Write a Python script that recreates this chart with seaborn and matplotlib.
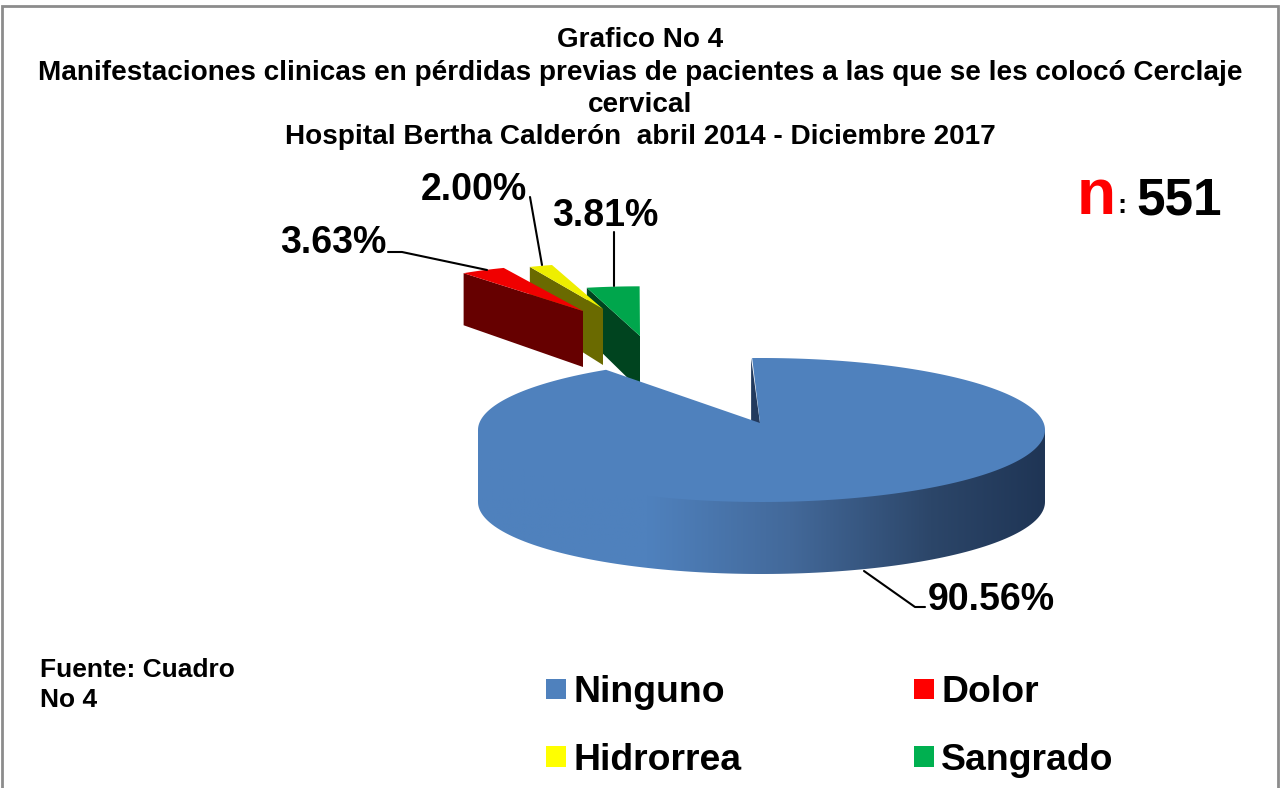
import numpy as np
import matplotlib
matplotlib.use("Agg")
import matplotlib.pyplot as plt
from matplotlib.colors import LinearSegmentedColormap
from matplotlib.patches import Patch, Polygon
import seaborn as sns

categories = ["Ninguno", "Dolor", "Hidrorrea", "Sangrado"]
percent = [90.56, 3.63, 2.00, 3.81]
top_colors = ["#4F81BD", "#F00000", "#EEEE00", "#00A64C"]
side_colors = ["#223A5E", "#660000", "#6A6A00", "#00441F"]
legend_colors = ["#4F81BD", "#FF0000", "#FFFF00", "#00B050"]

sns.set_theme(style="white")
plt.rcParams["font.family"] = ["Liberation Sans", "DejaVu Sans"]
plt.rcParams["font.weight"] = "bold"
plt.rcParams["text.color"] = "black"

# pie geometry in pixels of the picture
cx, cy = 761.5, 430
rx, ry = 283.5, 72
apex = np.array([760, 423])
depth = 72
start = -2.1

# exploded slices: apex position, x and y scale, depth, small turn for the perspective
exploded = {
    "Dolor": ((583, 311), 0.715, 0.65, 56, 0.0),
    "Hidrorrea": ((603, 309), 0.66, 0.635, 56, 0.0),
    "Sangrado": ((640, 336), 0.785, 0.69, 54, 2.0),
}

fig = plt.figure(figsize=(12.8, 7.88), dpi=100)
ax = fig.add_axes([0, 0, 1, 1])
ax.set_xlim(0, 1280)
ax.set_ylim(788, 0)
ax.axis("off")


def rim(a, b, n=120):
    t = np.radians(np.linspace(a, b, n))
    return np.column_stack([np.sin(t), -np.cos(t)])


# angles of every slice, clockwise
sweeps = np.array(percent) * 3.6
edges = start + np.concatenate([[0], np.cumsum(sweeps)])

ax.add_patch(Polygon([(2, 800), (2, 6), (1278, 6), (1278, 800)], closed=False, fill=False,
                     ec="#8C8C8C", lw=2))

# exploded slices, back to front
for i in [3, 2, 1]:
    name = categories[i]
    pos, sx, sy, h, turn = exploded[name]
    pos = np.array(pos)
    arc = rim(edges[i] + turn, edges[i + 1] + turn, 30) * [rx * sx, ry * sy] + pos
    # the far end of the side is a bit shorter because of the perspective
    side = np.array([arc[0], pos, pos + [0, h], arc[0] + [0, h * 0.93]])
    ax.add_patch(Polygon(side, fc=side_colors[i], ec="none"))
    ax.add_patch(Polygon(np.vstack([pos, arc]), fc=top_colors[i], ec="none"))

# main slice: outer wall with the shading, runs up under the top so no seam shows
wall_top = rim(90, 270) * [rx, ry] + [cx, cy]
wall = np.vstack([wall_top[[0, -1]], (wall_top + [0, depth])[::-1]])
shade = LinearSegmentedColormap.from_list(
    "shade", [(0, "#4F81BD"), (0.3, "#4F81BD"), (0.55, "#43699A"), (0.8, "#2C4669"), (1, "#1F3555")])
img = ax.imshow(np.linspace(0, 1, 256)[None, :], extent=[cx - rx, cx + rx, cy + ry + depth, cy - 10],
                cmap=shade, aspect="auto", vmin=0, vmax=1)
img.set_clip_path(Polygon(wall, transform=ax.transData))
ax.set_xlim(0, 1280)
ax.set_ylim(788, 0)

# inner wall seen in the notch
inner = rim(edges[0], edges[0], 1)[0] * [rx, ry] + [cx, cy]
ax.add_patch(Polygon([inner, apex, apex + [0, depth], inner + [0, depth]], fc=side_colors[0], ec="none"))

# main slice: top, the back of the rim is squeezed a little by the perspective
t = np.radians(np.linspace(edges[0], edges[1], 400))
squeezed = np.arctan2(0.9 * np.sin(t), np.cos(t))
top = np.column_stack([cx + rx * np.sin(squeezed), cy - ry * np.cos(squeezed)])
ax.add_patch(Polygon(np.vstack([apex, top]), fc=top_colors[0], ec="none"))

# leader lines
ax.plot([388, 402, 487], [252, 252, 270], color="black", lw=1.5)
ax.plot([530, 542], [197, 265], color="black", lw=1.5)
ax.plot([614, 614], [232, 286], color="black", lw=1.5)
ax.plot([864, 915, 925], [571, 607, 607], color="black", lw=1.5)

# value labels
label_pos = {"Ninguno": (991, 600), "Dolor": (333, 243), "Hidrorrea": (474, 190), "Sangrado": (605, 216)}
for name, val in zip(categories, percent):
    x, y = label_pos[name]
    ax.text(x, y, f"{val:.2f}%", fontsize=27, ha="center", va="center")

# title
title = ["Grafico No 4",
         "Manifestaciones clinicas en pérdidas previas de pacientes a las que se les colocó Cerclaje",
         "cervical",
         "Hospital Bertha Calderón  abril 2014 - Diciembre 2017"]
for line, y in zip(title, [40, 73, 105, 137]):
    ax.text(640, y, line, fontsize=20.1, ha="center", va="center")

ax.text(1077, 214, "n", fontsize=46, color="#FF0000", ha="left", va="baseline")
ax.text(1117, 213, ":", fontsize=20, ha="left", va="baseline")
ax.text(1136, 214, "551", fontsize=37, ha="left", va="baseline")

ax.text(40, 670, "Fuente: Cuadro", fontsize=19, ha="left", va="center")
ax.text(40, 700, "No 4", fontsize=19, ha="left", va="center")

# legend is filled by columns, so this order gives the rows Ninguno-Dolor and Hidrorrea-Sangrado
order = [0, 2, 1, 3]
handles = [Patch(fc=legend_colors[i], ec="none", label=categories[i]) for i in order]
ax.legend(handles=handles, ncol=2, loc="upper left", bbox_to_anchor=(546, 675), bbox_transform=ax.transData,
          frameon=False, fontsize=26.9, borderpad=0, borderaxespad=0, handlelength=0.54, handleheight=0.46,
          handletextpad=0.2, columnspacing=4.6, labelspacing=0.88)

fig.savefig("out.png", dpi=100)
